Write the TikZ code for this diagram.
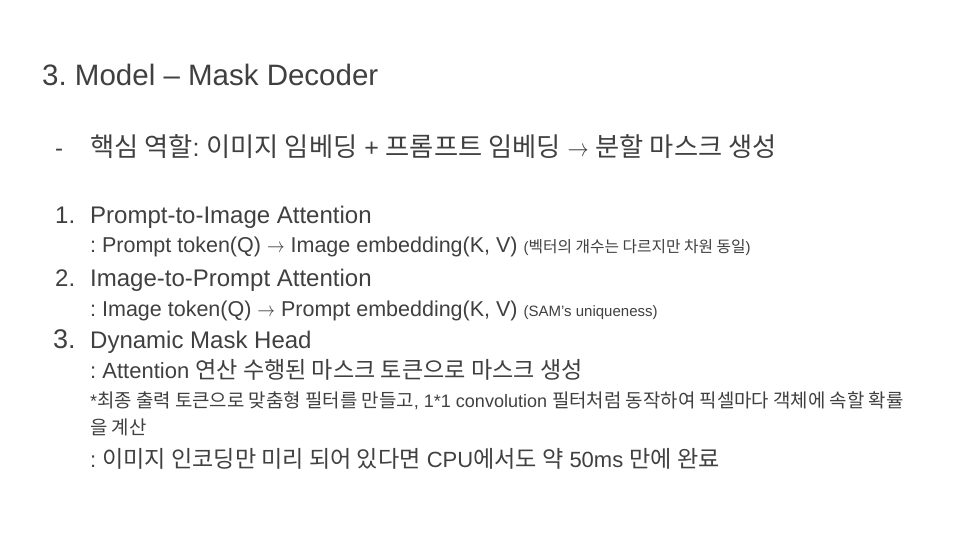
\documentclass[tikz,border=0pt]{standalone}
\usepackage{fontspec}
\setmainfont{Liberation Sans}
\newfontfamily\kr[Scale=1.05]{Noto Sans CJK KR}
\usetikzlibrary{positioning}
\definecolor{txtgray}{RGB}{64,64,64}
\frenchspacing
\tikzset{
    txtbase/.style={anchor=base west, inner sep=0pt, text=txtgray},
    titlebox/.style={txtbase, font=\fontsize{29.5}{34}\selectfont},
    itembox/.style={txtbase, font=\fontsize{24}{28}\selectfont},
    subbox/.style={txtbase, font=\fontsize{21.5}{25}\selectfont},
    notebox/.style={txtbase, font=\fontsize{18}{20}\selectfont},
}
\newcommand{\sidenote}[1]{{\fontsize{15}{18}\selectfont #1}}
\newcommand{\toarrow}{\scalebox{0.85}[1]{$\rightarrow$}}

\begin{document}
\begin{tikzpicture}[x=1pt, y=-1pt]
    \useasboundingbox[fill=white] (0,0) rectangle (960,540);
    % 제목
    \node[titlebox] (title) at (42,86) {3. Model – Mask Decoder};
    % 핵심 역할
    \node[itembox] (dash) at (55,157) {-};
    \node[itembox, font=\fontsize{25}{28}\selectfont] (role) at (90,157) {{\kr 핵심 역할}: {\kr 이미지 임베딩} + {\kr 프롬프트 임베딩} \toarrow{} {\kr 분할 마스크 생성}};
    % 번호
    \foreach \n/\y in {1/223, 2/286} {
        \node[itembox] (num\n) at (55,\y) {\n.};
    }
    \node[itembox, font=\fontsize{27}{30}\selectfont] (num3) at (53,348) {3.};
    % 항목
    \node[itembox] (head1) at (90,223) {Prompt-to-Image Attention};
    \node[subbox] (sub1) at (90,252) {: Prompt token(Q) \toarrow{} Image embedding(K, V) \sidenote{({\kr 벡터의 개수는 다르지만 차원 동일})}};
    \node[itembox] (head2) at (90,286) {Image-to-Prompt Attention};
    \node[subbox] (sub2) at (90,316) {: Image token(Q) \toarrow{} Prompt embedding(K, V) \sidenote{(SAM’s uniqueness)}};
    \node[itembox] (head3) at (90,348) {Dynamic Mask Head};
    \node[subbox, font=\fontsize{22}{25}\selectfont] (sub3) at (90,378) {: Attention {\kr 연산 수행된 마스크 토큰으로 마스크 생성}};
    \node[notebox] (note1) at (90,407) {*{\kr 최종 출력 토큰으로 맞춤형 필터를 만들고}, 1*1 convolution {\kr 필터처럼 동작하여 픽셀마다 객체에 속할 확률}};
    \node[notebox] (note2) at (90,434) {{\kr 을 계산}};
    \node[subbox, font=\fontsize{22}{25}\selectfont] (sub4) at (90,467) {: {\kr 이미지 인코딩만 미리 되어 있다면} CPU{\kr 에서도 약} 50ms {\kr 만에 완료}};
\end{tikzpicture}
\end{document}
